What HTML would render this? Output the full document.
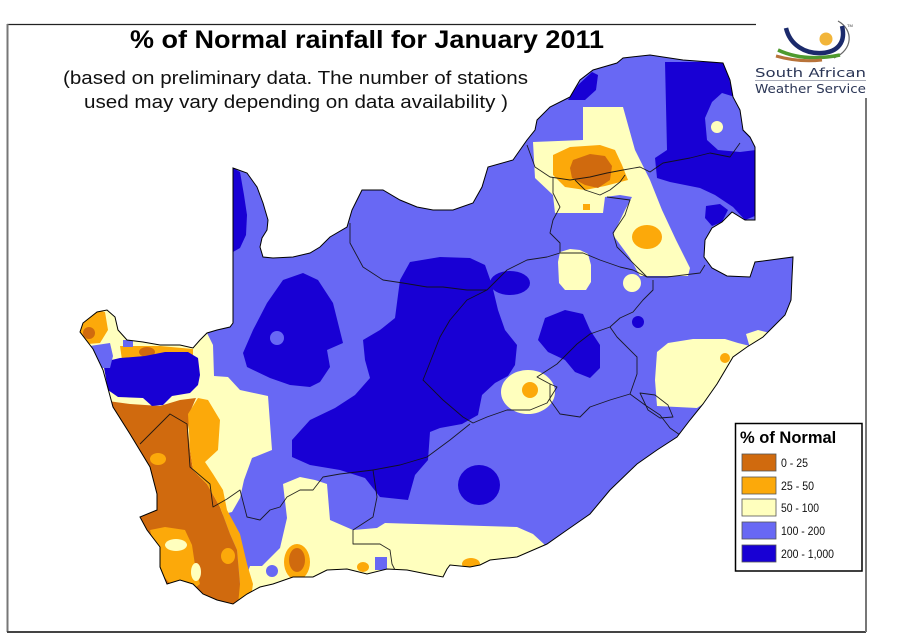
<!DOCTYPE html>
<html><head><meta charset="utf-8"><style>
html,body{margin:0;padding:0;background:#fff;width:900px;height:637px;overflow:hidden}
svg{display:block}
text{font-family:"Liberation Sans",Arial,sans-serif}
</style></head><body>
<svg width="900" height="637" viewBox="0 0 900 637" xmlns="http://www.w3.org/2000/svg">
<defs>
<clipPath id="sa"><path id="outl" d="M233,168 L247,173 L257,187 L263,203 L268,220 L267,230 L262,238 L260,247 L263,257 L273,258 L293,257 L310,253 L320,247 L330,237 L347,227 L352,210 L357,200 L362,190 L383,190 L400,200 L417,207 L433,210 L453,210 L473,203 L482,187 L488,167 L513,160 L527,140 L535,130 L537,120 L550,107 L570,97 L580,80 L593,70 L617,63 L623,58 L650,55 L663,57 L683,60 L710,62 L723,63 L730,80 L733,97 L740,110 L743,130 L750,137 L755,147 L755,220 L745,220 L732,212 L722,222 L712,228 L705,240 L704,257 L712,268 L727,276 L750,277 L755,262 L793,257 L792,277 L791,300 L785,315 L775,325 L763,337 L747,347 L733,357 L717,384 L703,404 L690,420 L677,437 L657,450 L637,464 L610,490 L590,514 L567,530 L547,544 L517,557 L490,560 L480,565 L470,567 L450,565 L447,569 L443,577 L427,574 L407,570 L387,569 L367,574 L347,569 L327,570 L313,577 L293,577 L273,584 L260,587 L247,594 L233,604 L217,600 L203,594 L193,584 L180,580 L167,584 L160,567 L160,547 L147,530 L140,517 L157,510 L157,494 L150,467 L130,434 L113,407 L103,370 L93,349 L80,332 L83,323 L97,312 L107,310 L115,317 L118,330 L127,340 L143,342 L160,345 L180,345 L193,348 L200,340 L207,333 L217,330 L230,327 L233,323 Z"/></clipPath>
</defs>
<rect width="900" height="637" fill="#fff"/>

<!-- frame -->
<line x1="7" y1="24.5" x2="756" y2="24.5" stroke="#222" stroke-width="1.2"/>
<line x1="7.5" y1="24" x2="7.5" y2="632" stroke="#777" stroke-width="2"/>
<line x1="7" y1="632" x2="866" y2="632" stroke="#444" stroke-width="2"/>
<line x1="866" y1="98" x2="866" y2="632" stroke="#777" stroke-width="2"/>

<!-- title -->
<text x="130" y="48" font-weight="bold" font-size="25" textLength="474" lengthAdjust="spacingAndGlyphs" fill="#000">% of Normal rainfall for January 2011</text>
<text x="63" y="84" font-size="18" textLength="465" lengthAdjust="spacingAndGlyphs" fill="#111">(based on preliminary data. The number of stations</text>
<text x="84" y="108" font-size="18" textLength="424" lengthAdjust="spacingAndGlyphs" fill="#111">used may vary depending on data availability )</text>

<!-- map -->
<g clip-path="url(#sa)">
<rect x="0" y="0" width="900" height="637" fill="#6868F4"/>
<g fill="#FFFFBE">
<path d="M70,295 L125,300 L135,338 L196,336 L207,333 L213,345 L214,376 L228,377 L240,390 L268,396 L272,450 L252,458 L244,480 L240,498 L232,512 L200,520 L150,470 L70,400 Z"/>
<path d="M283,484 L300,477 L315,480 L327,484 L330,520 L353,530 L377,528 L385,523 L450,525 L517,527 L533,534 L545,545 L560,575 L250,615 L245,580 L250,566 L262,566 L280,548 L287,518 Z"/>
<path d="M583,107 L623,107 L628,125 L635,150 L650,180 L662,210 L676,240 L690,268 L688,276 L640,276 L630,258 L613,235 L625,210 L632,197 L620,195 L605,197 L603,213 L555,213 L553,195 L535,178 L533,142 L583,140 Z"/>
<path d="M560,252 L570,249 L580,250 L588,254 L591,265 L591,282 L586,290 L565,290 L559,283 L558,262 Z"/>
<circle cx="632" cy="283" r="9"/>
<ellipse cx="528" cy="392" rx="27" ry="22"/>
<path d="M657,352 L668,343 L693,339 L725,339 L738,343 L750,346 L733,357 L717,384 L703,404 L697,408 L657,406 L655,380 Z"/>
<path d="M746,334 L758,330 L770,333 L762,343 L750,348 Z"/>
</g>
<path fill="#D06A0E" d="M100,400 L130,404 L160,406 L180,400 L196,398 L190,412 L188,430 L190,450 L193,470 L207,484 L220,507 L230,534 L237,550 L240,584 L240,615 L90,615 Z"/>
<g fill="#FCA90A">
<path d="M188,414 L198,398 L208,400 L220,420 L218,450 L205,462 L213,474 L223,490 L227,510 L240,534 L247,564 L253,584 L250,605 L238,605 L240,584 L237,550 L230,534 L220,507 L207,484 L193,470 L190,450 Z"/>
<ellipse cx="158" cy="459" rx="8" ry="6"/>
<path d="M150,530 L165,527 L185,530 L192,545 L195,565 L200,584 L190,592 L172,586 L160,572 L155,550 Z"/>
<ellipse cx="228" cy="556" rx="7" ry="8"/>
<path d="M78,320 L95,310 L105,312 L108,330 L100,343 L88,344 L78,336 Z"/>
<path d="M120,346 L160,346 L193,349 L193,358 L175,357 L160,361 L140,363 L122,360 Z"/>
<path d="M553,155 L570,147 L600,145 L615,150 L622,165 L628,180 L605,186 L585,190 L565,187 L553,175 Z"/>
<ellipse cx="647" cy="237" rx="15" ry="12"/>
<rect x="583" y="204" width="7" height="6"/>
<circle cx="530" cy="390" r="8"/>
<circle cx="725" cy="358" r="5"/>
<ellipse cx="297" cy="562" rx="13" ry="18"/>
<ellipse cx="363" cy="567" rx="6" ry="5"/>
<ellipse cx="471" cy="564" rx="9" ry="6"/>
</g>
<g fill="#FFFFBE">
<ellipse cx="176" cy="545" rx="11" ry="6"/>
<ellipse cx="196" cy="572" rx="5" ry="9"/>
</g>
<g fill="#D06A0E">
<ellipse cx="89" cy="333" rx="6" ry="6"/>
<ellipse cx="147" cy="352" rx="8" ry="5"/>
<path d="M573,160 L590,154 L605,156 L612,166 L610,180 L598,188 L585,185 L572,178 L570,168 Z"/>
<ellipse cx="297" cy="560" rx="8" ry="12"/>
</g>
<g fill="#1800D4">
<path d="M233,168 L240,172 L244,195 L247,215 L246,235 L240,248 L233,252 Z"/>
<path d="M303,273 L318,280 L333,303 L343,343 L327,350 L330,367 L320,382 L310,387 L290,385 L270,378 L247,367 L243,353 L253,330 L267,303 L283,280 Z"/>
<path d="M410,262 L440,257 L470,258 L485,265 L492,285 L498,310 L505,330 L517,345 L515,365 L508,376 L495,383 L482,395 L478,415 L462,424 L440,428 L430,432 L428,460 L415,475 L408,500 L380,497 L365,478 L340,470 L310,465 L292,457 L292,440 L310,420 L335,408 L355,395 L370,378 L365,360 L363,340 L380,330 L395,318 L398,295 L400,280 Z"/>
<ellipse cx="510" cy="283" rx="20" ry="12"/>
<path d="M545,318 L565,310 L583,314 L590,330 L600,345 L600,368 L590,378 L575,372 L565,360 L548,352 L538,340 Z"/>
<circle cx="638" cy="322" r="6"/>
<ellipse cx="479" cy="485" rx="21" ry="20"/>
<path d="M665,62 L725,62 L733,95 L742,130 L750,137 L755,147 L755,216 L745,220 L733,207 L715,195 L700,188 L670,182 L657,178 L655,158 L667,150 Z"/>
<path d="M706,206 L720,204 L728,210 L722,222 L712,226 L705,218 Z"/>
<path d="M568,100 L578,85 L592,72 L598,75 L596,90 L585,100 Z"/>
<path d="M103,362 L120,358 L145,356 L165,352 L188,352 L198,358 L200,375 L198,385 L190,393 L172,396 L163,405 L152,406 L143,398 L118,397 L108,390 Z"/>
</g>
<g fill="#6868F4">
<path d="M90,346 L110,343 L113,356 L110,368 L98,368 Z"/>
<rect x="123" y="340" width="10" height="7"/>
<circle cx="277" cy="338" r="7"/>
<path d="M722,93 L735,97 L742,130 L752,140 L756,150 L740,152 L718,150 L707,140 L705,118 L712,102 Z"/>
<circle cx="272" cy="571" r="6"/>
<rect x="375" y="557" width="12" height="13"/>
</g>
<circle cx="717" cy="127" r="6" fill="#FFFFBE"/>

<g fill="none" stroke="#111" stroke-width="0.9" stroke-linejoin="round" opacity="0.9">
<path d="M350,223 L350,243 L363,267 L383,280 L403,283 L427,287 L443,287 L467,290 L487,290"/>
<path d="M487,290 L507,270 L527,260 L547,257 L560,253 L583,253 L600,260 L620,267 L633,270 L647,277 L667,277 L700,273 L705,265"/>
<path d="M487,290 L467,300 L450,320 L440,337 L427,370 L423,380 L443,400 L463,417 L473,423 L487,417 L507,410 L530,410 L547,403 L557,387 L550,384"/>
<path d="M537,377 L557,364 L577,344 L590,334 L610,327 L617,337 L637,357 L637,374 L630,394 L610,400 L590,407 L580,417 L560,414 L550,400 L550,384 Z"/>
<path d="M610,327 L620,318 L633,312 L643,300 L653,290 L653,280"/>
<path d="M630,394 L645,405 L660,415 L670,428 L680,435"/>
<path d="M640,393 L655,395 L668,405 L673,417 L660,418 L648,410 Z"/>
<path d="M140,444 L170,414 L187,424 L190,467 L210,484 L213,507 L227,499 L240,490 L247,517 L260,520 L270,510 L280,507 L287,497 L300,490 L313,490 L323,477 L340,474 L373,470 L377,497 L373,517 L353,530 L353,544 L380,544 L390,550 L392,564 L395,570"/>
<path d="M373,470 L400,465 L427,457 L450,440 L470,424"/>
<path d="M527,145 L535,167 L550,177 L570,180 L590,177 L607,173 L623,170 L640,167 L650,172 L663,163 L690,158 L710,153 L730,157 L740,143"/>
<path d="M575,180 L585,190 L600,195 L610,190 L620,182 L625,175"/>
<path d="M553,177 L553,193 L560,207 L553,220 L550,233 L560,243 L560,253"/>
<path d="M607,197 L630,200 L625,215 L613,233 L617,247 L637,267 L647,277"/>
</g>
</g>
<use href="#outl" fill="none" stroke="#000" stroke-width="1"/>

<!-- legend -->
<rect x="735.5" y="423.5" width="126.5" height="147.5" fill="#fff" stroke="#000" stroke-width="1.5"/>
<text x="740" y="443" font-weight="bold" font-size="16.5" fill="#000">% of Normal</text>
<g stroke="#555" stroke-width="0.8">
<rect x="742" y="454" width="34" height="17" fill="#D06A0E"/>
<rect x="742" y="477" width="34" height="17" fill="#FCA90A"/>
<rect x="742" y="499" width="34" height="17" fill="#FFFFBE"/>
<rect x="742" y="522" width="34" height="17" fill="#6868F4"/>
<rect x="742" y="545" width="34" height="17" fill="#1800D4"/>
</g>
<g font-size="12" fill="#111">
<text x="781" y="467" textLength="27" lengthAdjust="spacingAndGlyphs">0 - 25</text>
<text x="781" y="490" textLength="33" lengthAdjust="spacingAndGlyphs">25 - 50</text>
<text x="781" y="512" textLength="38" lengthAdjust="spacingAndGlyphs">50 - 100</text>
<text x="781" y="535" textLength="44" lengthAdjust="spacingAndGlyphs">100 - 200</text>
<text x="781" y="558" textLength="53" lengthAdjust="spacingAndGlyphs">200 - 1,000</text>
</g>

<!-- logo -->
<g>
<path d="M838,21 C854,30 853,50 834,58" fill="none" stroke="#666" stroke-width="1.2"/>
<path d="M786,28 C790,45 805,54 822,53 C838,52 846,42 842,26" fill="none" stroke="#1b2a6b" stroke-width="4.5"/>
<path d="M778,50 C795,58 815,60 840,55" fill="none" stroke="#4e9a2e" stroke-width="3.5"/>
<path d="M776,56 C790,60 805,62 822,60" fill="none" stroke="#b8733a" stroke-width="3"/>
<circle cx="826" cy="39" r="6.5" fill="#f2b53a"/>
<text x="847" y="27" font-size="4" fill="#333">TM</text>
<text x="755" y="77" font-size="12.5" fill="#2b3656" textLength="111" lengthAdjust="spacingAndGlyphs" style="font-family:'DejaVu Sans',sans-serif">South  African</text>
<line x1="755" y1="80.5" x2="866" y2="80.5" stroke="#8a8fa0" stroke-width="0.8"/>
<text x="755" y="93" font-size="12.5" fill="#2b3656" textLength="111" lengthAdjust="spacingAndGlyphs" style="font-family:'DejaVu Sans',sans-serif">Weather Service</text>
</g>
</svg>
</body></html>
